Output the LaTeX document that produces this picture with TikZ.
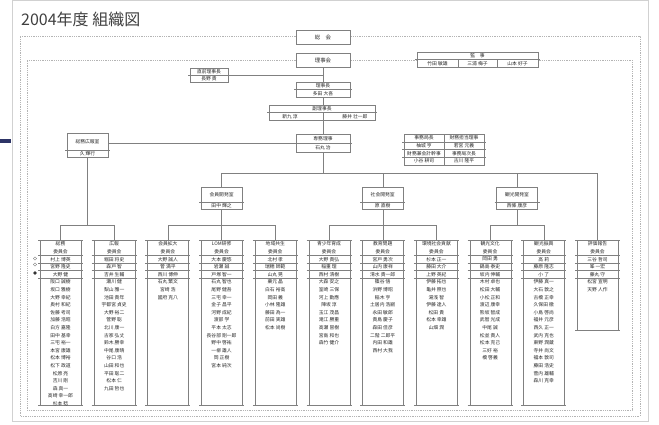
\documentclass[tikz,border=0pt]{standalone}
\usepackage{fontspec}
\setmainfont{Noto Sans CJK JP}
\definecolor{lg}{HTML}{808080}
\definecolor{dg}{HTML}{B4B4B4}
\definecolor{tx}{HTML}{2A2A2A}
\definecolor{navy}{HTML}{2D3466}
\tikzset{
  ln/.style={draw=lg,line width=0.4pt},
  bx/.style={draw=lg,line width=0.45pt,fill=white,inner sep=0pt},
  nm/.style={inner sep=0pt,font=\fontsize{4.8}{5}\selectfont,text=tx},
  hd/.style={inner sep=0pt,font=\fontsize{5.4}{6}\selectfont,text=tx},
  dotl/.style={draw=dg,line width=0.6pt,dash pattern=on 0.7pt off 1.1pt},
}
\newcommand\orgcol[5]{%
  \pgfmathsetmacro\cxl{#2}%
  \pgfmathsetmacro\cxr{#2+41}%
  \pgfmathsetmacro\cxc{#2+20.5}%
  \node[bx,anchor=north west,minimum width=41pt,minimum height={#3-240}] (#1) at (\cxl,240) {};
  \coordinate (#1top) at (\cxc,240);
  \draw[ln] (\cxl-2,240) -- (\cxr+2,240);
  \draw[ln] (\cxl-2,#3) -- (\cxr+2,#3);
  \foreach \yy in {255.4,263,270.6,278.2}{\draw[ln] (\cxl-2,\yy) -- (\cxr+2,\yy);}
  \node[nm] (#1h) at (\cxc,244) {#4};
  \node[nm] (#1u) at (\cxc,251.6) {委員会};
  \foreach \t [count=\i from 2] in {#5}{\node[nm] (#1r\i) at (\cxc,244+7.6*\i) {\t};}
}
\begin{document}
\begin{tikzpicture}[x=1pt,y=-1pt]
\useasboundingbox (0,0) rectangle (659,424);
\fill[white] (0,0) rectangle (659,424);
\draw[draw=black!18,line width=0.6pt] (12,0.5) rectangle (648,421);
\fill[navy] (0,139) rectangle (11,143);
\node[anchor=west,inner sep=0pt,font=\fontsize{16}{18}\selectfont,text=black!75] (title) at (21,19) {2004年度 組織図};

% coordinates
\coordinate (hb) at (0,173);
\coordinate (br) at (0,225);

% dotted frames
\draw[dotl] (296,36) -- (20,36) -- (20,416) -- (640,416) -- (640,36) -- (350,36);
\draw[dotl] (296,60) -- (27,60) -- (27,410) -- (632,410) -- (632,60) -- (350,60);

% spine
\draw[ln] (323,67) -- (323,173);
\draw[ln] (228,75) -- (323,75);

% top boxes
\node[bx,minimum width=54pt,minimum height=14pt] (sokai) at (323,37) {};
\node[hd] (sokaiT) at (323,37) {総　会};
\node[bx,minimum width=54pt,minimum height=14pt] (rijikai) at (323,60) {};
\node[hd] (rijikaiT) at (323,60) {理事会};
\node[bx,minimum width=54pt,minimum height=15pt] (richo) at (323,89.5) {};
\draw[ln] (294,89.5) -- (352,89.5);
\node[nm] (richo1) at (323,85.8) {理事長};
\node[nm] (richo2) at (323,93.3) {多田 大吾};
\node[bx,minimum width=106pt,minimum height=15pt] (fuku) at (322,112.5) {};
\draw[ln] (267,112.5) -- (377,112.5);
\draw[ln] (323,112.5) -- (323,120);
\node[nm] (fuku1) at (322,108.8) {副理事長};
\node[nm] (fuku2) at (290,116.3) {新九 淳};
\node[nm] (fuku3) at (355,116.3) {藤井 壮一郎};
\node[bx,minimum width=38pt,minimum height=14pt] (zenri) at (209,75) {};
\draw[ln] (188,75) -- (230,75);
\node[nm] (zenri1) at (209,71.5) {直前理事長};
\node[nm] (zenri2) at (209,78.6) {長野 貴};
\node[bx,minimum width=121pt,minimum height=15pt] (kanji) at (477.5,59.5) {};
\draw[ln] (415,59.5) -- (540,59.5);
\draw[ln] (458,59.5) -- (458,67);
\draw[ln] (497,59.5) -- (497,67);
\node[nm] (kanji0) at (477.5,55.8) {監　事};
\node[nm] (kanji1) at (437.5,63.3) {竹田 敏雄};
\node[nm] (kanji2) at (477.5,63.3) {三浦 梅子};
\node[nm] (kanji3) at (517.5,63.3) {山本 好子};

% senmu
\node[bx,minimum width=54pt,minimum height=18pt] (senmu) at (323,143) {};
\draw[ln] (294,143) -- (352,143);
\node[nm] (senmu1) at (323,139) {専務理事};
\node[nm] (senmu2) at (323,147.3) {石丸 治};

% jimukyoku grid
\node[bx,minimum width=80pt,minimum height=31pt] (jimu) at (444,149.5) {};
\draw[ln] (444,134) -- (444,165);
\foreach \yy in {141.75,149.5,157.25}{\draw[ln] (402,\yy) -- (486,\yy);}
\node[nm] (j11) at (424,137.9) {事務局長};
\node[nm] (j12) at (464,137.9) {財務担当理事};
\node[nm] (j21) at (424,145.6) {柚城 亨};
\node[nm] (j22) at (464,145.6) {若宮 元義};
\node[nm] (j31) at (424,153.4) {財務兼会計幹事};
\node[nm] (j32) at (464,153.4) {事務局次長};
\node[nm] (j41) at (424,161.1) {小谷 耕司};
\node[nm] (j42) at (464,161.1) {古川 隆平};

% somu kohoshitsu
\node[bx,minimum width=41pt,minimum height=24pt] (somu) at (87.5,145) {};
\draw[ln] (65,150) -- (110,150);
\node[nm] (somu1) at (87.5,141.5) {総務広報室};
\node[nm] (somu2) at (87.5,153.6) {久 輝行};
\draw[ln] (senmu.west) -- (senmu.west -| somu.east);

% shitsu boxes
\node[bx,minimum width=41pt,minimum height=22pt] (kaiin) at (221.6,198) {};
\node[bx,minimum width=41pt,minimum height=22pt] (shakai) at (382.7,198) {};
\node[bx,minimum width=41pt,minimum height=22pt] (kanko) at (517,198) {};
\foreach \c in {221.6,382.7,517}{\draw[ln] (\c-22.5,202) -- (\c+22.5,202);}
\node[nm] (kaiin1) at (221.6,194.5) {会員開発室};
\node[nm] (kaiin2) at (221.6,205.6) {田中 輝之};
\node[nm] (shakai1) at (382.7,194.5) {社会開発室};
\node[nm] (shakai2) at (382.7,205.6) {原 直樹};
\node[nm] (kanko1) at (517,194.5) {観光開発室};
\node[nm] (kanko2) at (517,205.6) {西條 康彦};

% committees
\orgcol{c1}{40}{405}{総務}{村上 博英,宮野 隆史,大野 健,阪口 誠樹,坂口 雅樹,大野 幸紀,奥村 和紀,佐藤 考司,加藤 浩昭,白方 嘉隆,田中 基幸,三宅 裕一,本宮 康雄,松本 博裕,松下 政道,松原 亮,吉川 剛,森 真一,高崎 幸一郎,杉本 稔}
\orgcol{c2}{93.7}{405}{広報}{堀田 将史,森戸 智,吉井 生輔,瀬川 健,梨山 雅一,池田 貴年,宇都宮 貞史,大野 裕二,菅野 聡,北川 康一,古家 弘丈,鈴木 勝幸,中尾 康晴,谷口 浩,山田 和也,平田 聡二,松本 仁,九田 哲也}
\orgcol{c3}{147.4}{405}{会員拡大}{大野 誠人,菅 満平,西川 博伸,石丸 繁文,宮崎 浩,國府 克八}
\orgcol{c4}{201.1}{405}{LOM研修}{大本 慶悠,岩瀬 誠,戸塚 智一,石丸 智也,尾野 健吾,三宅 幸一,金子 昌平,河野 成紀,渡部 学,平本 太志,長谷部 剛一郎,野中 啓祐,一柳 雄人,岡 正樹,宮本 純次}
\orgcol{c5}{254.8}{405}{地域共生}{北村 孝,瑞穂 師範,山丸 晃,栗元 晶,白石 裕高,岡田 義,小林 隆雄,藤田 為一,前田 実雄,松本 尚樹}
\orgcol{c6}{308.5}{405}{青少年育成}{大野 貴弘,稲重 理,西村 清樹,大森 安之,室崎 三保,河上 勤應,陣坂 淳,玉江 茂昌,滝江 勝重,高瀬 冒樹,宮島 和也,森竹 健介}
\orgcol{c7}{362.2}{405}{教育問題}{宮戸 勇次,山内 康祥,清水 貴一郎,篠谷 悟,浜野 博昭,稲木 亨,土居内 浩嗣,永田 敏郎,貴島 慶子,森田 佳彦,二階 二郎平,内田 和雄,西村 大我}
\orgcol{c8}{415.9}{405}{環境社会貢献}{杉本 正一,藤田 大介,上野 英紀,伊藤 拓也,亀井 照也,湯浅 智,伊藤 達人,松田 貴,松本 幸雄,山畑 潤}
\orgcol{c9}{469.6}{405}{観光文化}{岡田 勇,鍋島 泰史,坂内 伸輔,木村 卓也,松田 大輔,小松 正和,渡辺 康幸,熊坂 智成,武智 光成,中尾 誠,松並 貴人,松本 克己,三好 裕,橋 啓義}
\orgcol{c10}{523.3}{405}{観光振興}{高 莉,藤原 隆志,小 了,伊藤 真一,大石 敦之,古橋 正幸,久保田 徹,小島 啓尚,福井 元彦,西久 正一,武内 克也,東野 潤蔵,寺井 尚文,福本 敦司,藤田 浩史,菅内 雄輔,森川 克幸}
\orgcol{c11}{577}{330}{評価報告}{三谷 哲司,峯 一宏,藤丸 守,松宮 宣明,天野 人作}

% connectors
\draw[ln] (senmu.south) -- (senmu.south |- hb);
\draw[ln] (kaiin.north |- hb) -- (c11top |- hb) -- (c11top);
\draw[ln] (kaiin.north |- hb) -- (kaiin.north);
\draw[ln] (shakai.north |- hb) -- (shakai.north);
\draw[ln] (kanko.north |- hb) -- (kanko.north);
\draw[ln] (somu.south) -- (somu.south |- br);
\draw[ln] (kaiin.south) -- (kaiin.south |- br);
\draw[ln] (shakai.south) -- (shakai.south |- br);
\draw[ln] (kanko.south) -- (kanko.south |- br);
\draw[ln] (c1top) -- ++(0,-15) -| (c2top);
\draw[ln] (c3top) -- ++(0,-15) -| (c5top);
\draw[ln] (c4top) -- ++(0,-15);
\draw[ln] (c6top) -- ++(0,-15) -| (c8top);
\draw[ln] (c7top) -- ++(0,-15);
\draw[ln] (c9top) -- ++(0,-15) -| (c10top);

% markers
\node[circle,draw=lg,line width=0.4pt,fill=white,minimum size=3.4pt,inner sep=0pt] (m1) at (35,258.5) {};
\node[circle,draw=lg,line width=0.4pt,fill=white,minimum size=3.4pt,inner sep=0pt] (m2) at (35,264.5) {};
\node[circle,fill=black!80,minimum size=3.6pt,inner sep=0pt] (m3) at (35,273) {};
\end{tikzpicture}
\end{document}
